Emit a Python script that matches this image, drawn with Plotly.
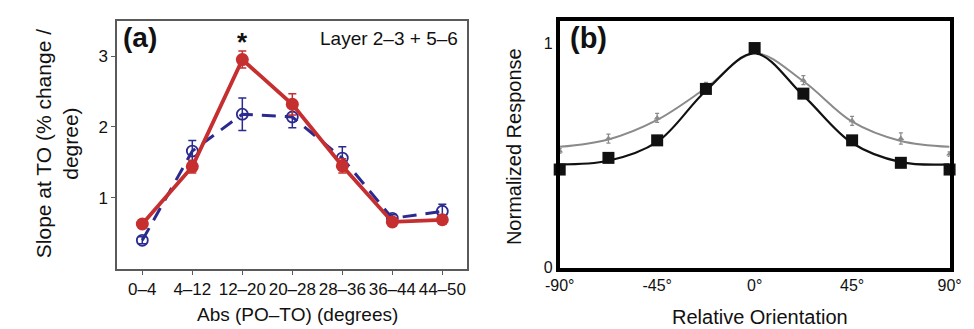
import plotly.graph_objects as go

# Panel (a)
cats = ["0–4", "4–12", "12–20", "20–28", "28–36", "36–44", "44–50"]
red_vals = [0.63, 1.44, 2.95, 2.32, 1.45, 0.66, 0.69]
red_err = [0.06, 0.09, 0.12, 0.15, 0.10, 0.05, 0.05]
blue_vals = [0.40, 1.66, 2.18, 2.14, 1.56, 0.71, 0.81]
blue_err = [0.05, 0.15, 0.23, 0.15, 0.16, 0.05, 0.10]
a_yticks = [1, 2, 3]

# Panel (b)
angles = [-90, -67.5, -45, -22.5, 0, 22.5, 45, 67.5, 90]
black_pts = [0.437, 0.489, 0.567, 0.796, 0.978, 0.775, 0.567, 0.467, 0.437]
grey_pts = [0.52, 0.575, 0.667, 0.81, 0.96, 0.835, 0.654, 0.575, 0.506]
grey_err = [0.01, 0.02, 0.02, 0.015, 0.01, 0.02, 0.02, 0.025, 0.01]
black_fit = [0.46, 0.476, 0.56, 0.788, 0.954, 0.766, 0.555, 0.47, 0.46]
grey_fit = [0.538, 0.571, 0.658, 0.80, 0.954, 0.83, 0.65, 0.564, 0.538]
b_xticks = [-90, -45, 0, 45, 90]
b_xlabels = ["-90°", "-45°", "0°", "45°", "90°"]

RED = "#c62f2f"
BLUE = "#2b2b8f"
FONT = "Liberation Sans, Arial, sans-serif"

W, H = 974, 329
def px_x(p): return p / W
def px_y(p): return 1 - p / H

fig = go.Figure()

xi = list(range(len(cats)))
fig.add_trace(go.Scatter(
    x=xi, y=blue_vals, mode="lines+markers",
    line=dict(color=BLUE, width=3, dash="14px,9px"),
    marker=dict(symbol="circle-open", size=11, color=BLUE, line=dict(width=1.8, color=BLUE)),
    error_y=dict(type="data", array=blue_err, color=BLUE, thickness=1.5, width=4),
    xaxis="x", yaxis="y", showlegend=False))
fig.add_trace(go.Scatter(
    x=xi, y=red_vals, mode="lines+markers",
    line=dict(color=RED, width=3.8),
    marker=dict(symbol="circle", size=13, color=RED),
    error_y=dict(type="data", array=red_err, color=RED, thickness=1.5, width=4),
    xaxis="x", yaxis="y", showlegend=False))

fig.add_trace(go.Scatter(
    x=angles, y=grey_fit, mode="lines", line=dict(color="#8a8a8a", width=2, shape="spline", smoothing=1.0),
    xaxis="x2", yaxis="y2", showlegend=False, cliponaxis=False))
fig.add_trace(go.Scatter(
    x=angles, y=black_fit, mode="lines", line=dict(color="#111111", width=2.2, shape="spline", smoothing=1.0),
    xaxis="x2", yaxis="y2", showlegend=False, cliponaxis=False))
fig.add_trace(go.Scatter(
    x=angles, y=grey_pts, mode="markers",
    marker=dict(symbol="triangle-up", size=6, color="#8a8a8a"),
    error_y=dict(type="data", array=grey_err, color="#8a8a8a", thickness=1.2, width=2),
    xaxis="x2", yaxis="y2", showlegend=False, cliponaxis=False))
fig.add_trace(go.Scatter(
    x=angles, y=black_pts, mode="markers",
    marker=dict(symbol="square", size=12, color="#111111"),
    xaxis="x2", yaxis="y2", showlegend=False, cliponaxis=False))

fig.update_layout(
    width=W, height=H, margin=dict(l=0, r=0, t=0, b=0),
    paper_bgcolor="white", plot_bgcolor="white",
    font=dict(family=FONT, color="#111111"),
    xaxis=dict(domain=[px_x(97), px_x(457)], range=[-0.5, 6.5],
               tickmode="array", tickvals=xi, ticktext=cats,
               showgrid=False, zeroline=False, showline=True, mirror=True,
               linecolor="#5a5a5a", linewidth=2, ticks="outside", ticklen=4,
               tickcolor="#5a5a5a", tickfont=dict(size=17), anchor="y"),
    yaxis=dict(domain=[px_y(268), px_y(13)], range=[0, 3.5],
               tickmode="array", tickvals=a_yticks, ticktext=[str(v) for v in a_yticks],
               showgrid=False, zeroline=False, showline=True, mirror=True,
               linecolor="#5a5a5a", linewidth=2, ticks="outside", ticklen=4,
               tickcolor="#5a5a5a", tickfont=dict(size=17), anchor="x"),
    xaxis2=dict(domain=[px_x(552), px_x(953)], range=[-90, 90],
                tickmode="array", tickvals=b_xticks, ticktext=b_xlabels,
                showgrid=False, zeroline=False, showline=True, mirror=True,
                linecolor="#000000", linewidth=3.5, ticks="", tickfont=dict(size=16),
                anchor="y2"),
    yaxis2=dict(domain=[px_y(267), px_y(13)], range=[0, 1.1],
                tickmode="array", tickvals=[0, 1], ticktext=["0", "1"],
                showgrid=False, zeroline=False, showline=True, mirror=True,
                linecolor="#000000", linewidth=3.5, ticks="", tickfont=dict(size=16),
                anchor="x2"),
)

ann = []
ann.append(dict(text="<b>(a)</b>", x=px_x(101), y=px_y(12), xref="paper", yref="paper",
                xanchor="left", yanchor="top", showarrow=False, font=dict(size=28)))
ann.append(dict(text="Layer 2–3 + 5–6", x=px_x(449), y=px_y(31), xref="paper", yref="paper",
                xanchor="right", yanchor="middle", showarrow=False, font=dict(size=19)))
ann.append(dict(text="<b>*</b>", x=2, y=3.2, xref="x", yref="y",
                xanchor="center", yanchor="middle", showarrow=False, font=dict(size=26)))
ann.append(dict(text="Slope at TO (% change /<br>degree)", x=px_x(35), y=px_y(140),
                xref="paper", yref="paper", xanchor="center", yanchor="middle",
                textangle=-90, showarrow=False, font=dict(size=21)))
ann.append(dict(text="Abs (PO–TO) (degrees)", x=px_x(282), y=px_y(315),
                xref="paper", yref="paper", xanchor="center", yanchor="middle",
                showarrow=False, font=dict(size=19)))
ann.append(dict(text="<b>(b)</b>", x=px_x(561), y=px_y(12), xref="paper", yref="paper",
                xanchor="left", yanchor="top", showarrow=False, font=dict(size=29)))
ann.append(dict(text="Normalized Response", x=px_x(505), y=px_y(143),
                xref="paper", yref="paper", xanchor="center", yanchor="middle",
                textangle=-90, showarrow=False, font=dict(size=20)))
ann.append(dict(text="Relative Orientation", x=px_x(758), y=px_y(318),
                xref="paper", yref="paper", xanchor="center", yanchor="middle",
                showarrow=False, font=dict(size=20)))
fig.update_layout(annotations=ann)

fig.write_html("out.html")
